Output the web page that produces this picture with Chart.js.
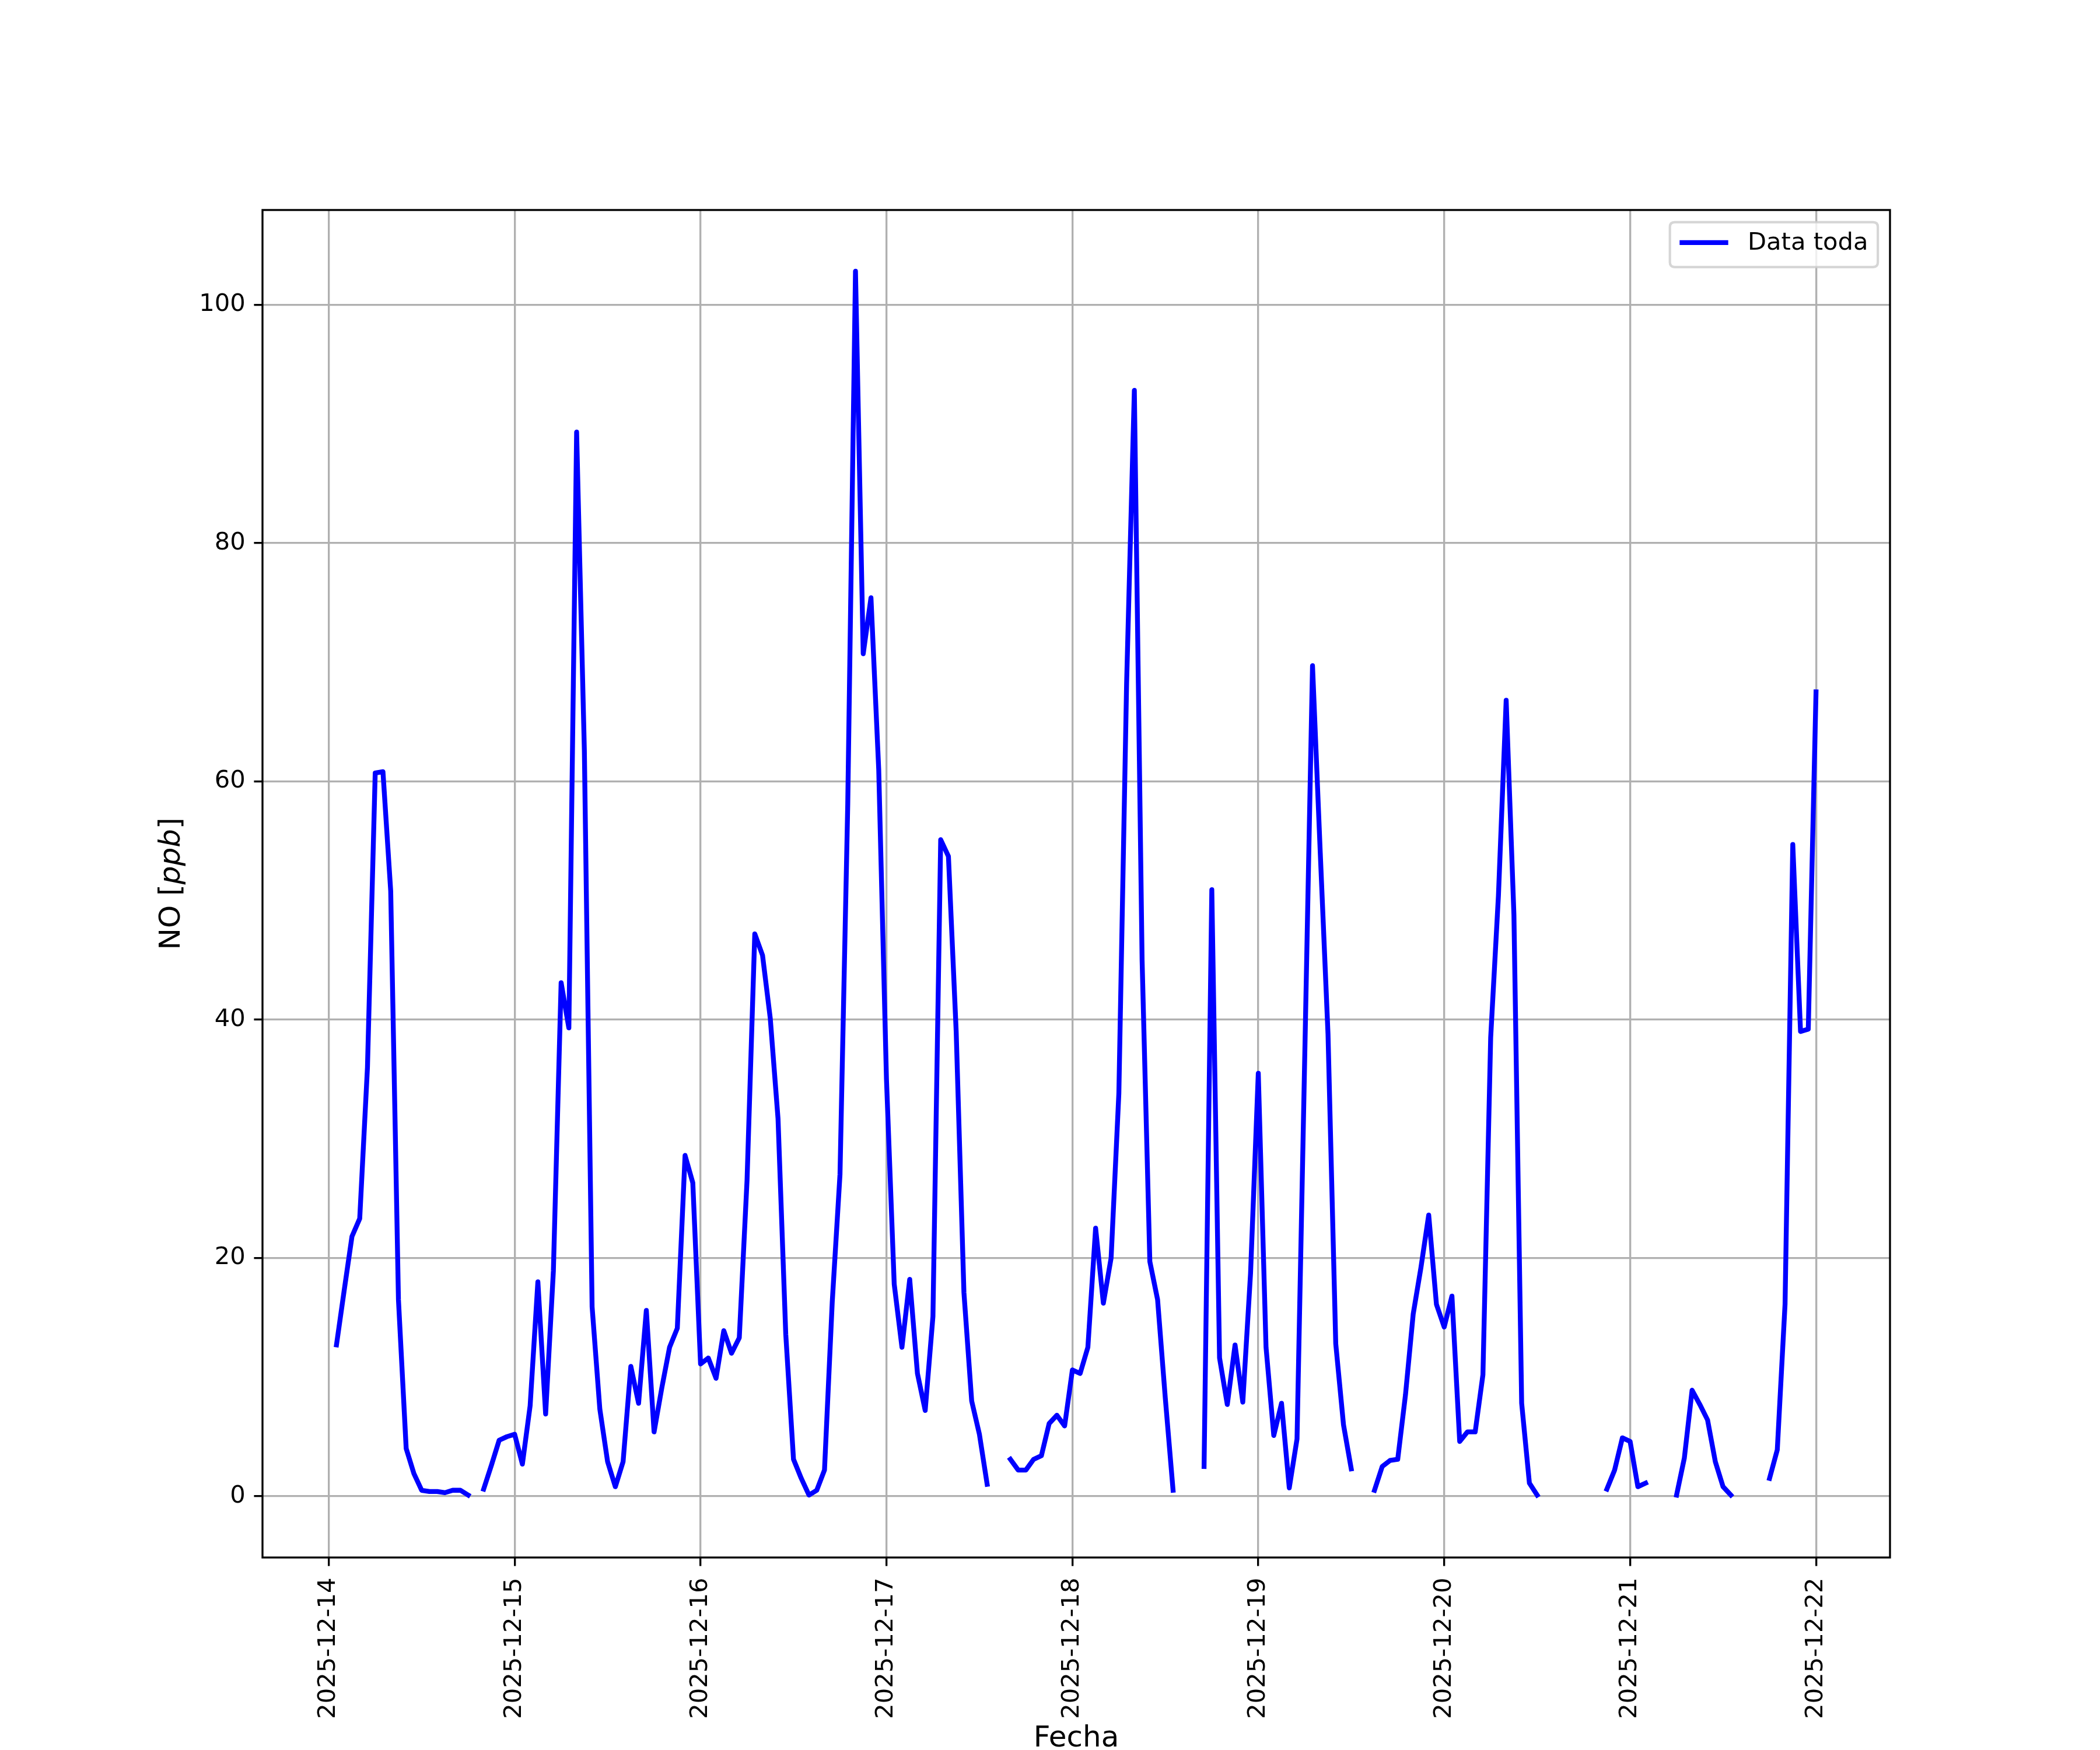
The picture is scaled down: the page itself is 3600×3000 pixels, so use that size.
<!DOCTYPE html>
<html>
<head>
<meta charset="utf-8">
<script src="https://cdn.jsdelivr.net/npm/chart.js@4.4.1/dist/chart.umd.min.js"></script>
<style>html,body{margin:0;padding:0;background:#fff}canvas{display:block}</style>
</head>
<body>
<canvas id="c" width="3600" height="3000" style="width:3600px;height:3000px"></canvas>
<script>
// ---- data (hourly NO values in ppb; null = missing hour) ----
const dayLabels = ['2025-12-14','2025-12-15','2025-12-16','2025-12-17','2025-12-18','2025-12-19','2025-12-20','2025-12-21','2025-12-22'];
const no_dec14 = [null,12.7,17.3,21.8,23.3,36.0,60.7,60.8,50.8,16.5,4.0,1.9,0.5,0.4,0.4,0.3,0.5,0.5,0.1,null,0.6,2.6,4.7,5.0];
const no_dec15 = [5.2,2.7,7.6,18.0,6.9,18.9,43.1,39.3,89.3,62.6,15.9,7.3,2.9,0.8,2.9,10.9,7.8,15.6,5.4,9.1,12.5,14.1,28.6,26.3];
const no_dec16 = [11.1,11.6,9.9,13.9,12.0,13.3,26.5,47.2,45.4,40.1,31.7,13.6,3.1,1.5,0.1,0.5,2.2,16.3,27.0,58.0,102.8,70.7,75.4,61.0];
const no_dec17 = [35.0,17.8,12.5,18.2,10.3,7.2,15.1,55.1,53.7,39.0,17.1,8.0,5.2,1.0,null,null,3.1,2.2,2.2,3.1,3.4,6.1,6.8,5.9];
const no_dec18 = [10.6,10.3,12.5,22.5,16.2,20.0,33.8,68.2,92.8,45.0,19.7,16.5,8.2,0.5,null,null,null,2.5,50.9,11.6,7.7,12.7,7.9,18.7];
const no_dec19 = [35.5,12.5,5.1,7.8,0.7,4.8,37.0,69.7,54.0,38.8,12.8,6.0,2.3,null,null,0.5,2.5,3.0,3.1,8.5,15.3,19.2,23.6,16.1];
const no_dec20 = [14.2,16.8,4.6,5.4,5.4,10.2,38.5,50.4,66.8,48.8,7.8,1.1,0.1,null,null,null,null,null,null,null,null,0.6,2.2,4.9];
const no_dec21 = [4.6,0.8,1.1,null,null,null,0.1,3.2,8.9,7.7,6.4,2.9,0.8,0.1,null,null,null,null,1.5,3.9,16.1,54.7,39.0,39.2];
const no_dec22 = [67.5];
const seriesLabel = 'Data toda';
const yTickValues = [0,20,40,60,80,100];
const xTitle = 'Fecha';

// ---- build the dataset (x = hours since 2025-12-14 00:00) ----
const hourlyByDay = [no_dec14,no_dec15,no_dec16,no_dec17,no_dec18,no_dec19,no_dec20,no_dec21,no_dec22];
const points = [];
hourlyByDay.forEach((arr, d) => arr.forEach((v, h) => points.push({x: d * 24 + h, y: v})));
const dayTickValues = dayLabels.map((_, i) => i * 24);

const PT = 300 / 72;           // pixels per point (300 dpi figure)
const TICK_FONT = 10 * PT;     // 41.67 px
const LABEL_FONT = 12 * PT;    // 50 px
const FAM = 'DejaVu Sans';

// axis limits with matplotlib-style 5% margins
const xs = points.filter(p => p.y !== null).map(p => p.x);
const ys = points.filter(p => p.y !== null).map(p => p.y);
const xLo = Math.min(...xs), xHi = Math.max(...xs);
const yLo = 0, yHi = Math.max(...ys);
const xMin = xLo - 0.05 * (xHi - xLo), xMax = xHi + 0.05 * (xHi - xLo);
const yMin = yLo - 0.05 * (yHi - yLo), yMax = yHi + 0.05 * (yHi - yLo);

const framePlugin = {
  id: 'frame',
  afterDatasetsDraw(chart) {
    const {ctx, chartArea: a} = chart;
    ctx.save();
    ctx.strokeStyle = '#000';
    ctx.lineWidth = 0.8 * PT;
    ctx.strokeRect(a.left, a.top, a.right - a.left, a.bottom - a.top);
    ctx.restore();
  }
};

const yTitlePlugin = {
  id: 'ytitle',
  afterDraw(chart) {
    const {ctx, chartArea: a} = chart;
    const parts = [
      {t: 'NO [', f: `${LABEL_FONT}px "${FAM}"`},
      {t: 'ppb', f: `italic ${LABEL_FONT}px "${FAM}"`},
      {t: ']', f: `${LABEL_FONT}px "${FAM}"`}
    ];
    ctx.save();
    let total = 0;
    parts.forEach(p => { ctx.font = p.f; p.w = ctx.measureText(p.t).width; total += p.w; });
    ctx.translate(295, (a.top + a.bottom) / 2);
    ctx.rotate(-Math.PI / 2);
    ctx.fillStyle = '#000';
    ctx.textBaseline = 'middle';
    ctx.textAlign = 'left';
    let x = -total / 2;
    parts.forEach(p => { ctx.font = p.f; ctx.fillText(p.t, x, 0); x += p.w; });
    ctx.restore();
  }
};

const legendPlugin = {
  id: 'mplLegend',
  afterDraw(chart) {
    const {ctx, chartArea: a} = chart;
    const ds = chart.data.datasets[0];
    const fs = TICK_FONT;
    ctx.save();
    ctx.font = `${fs}px "${FAM}"`;
    const tw = ctx.measureText(ds.label).width;
    const pad = 0.4 * fs, handle = 2 * fs, gap = 0.8 * fs;
    const w = pad + handle + gap + tw + pad;
    const h = 77;
    const right = a.right - 0.5 * fs, top = a.top + 0.5 * fs;
    const left = right - w;
    const r = 0.2 * fs;
    ctx.beginPath();
    ctx.moveTo(left + r, top);
    ctx.lineTo(right - r, top);
    ctx.quadraticCurveTo(right, top, right, top + r);
    ctx.lineTo(right, top + h - r);
    ctx.quadraticCurveTo(right, top + h, right - r, top + h);
    ctx.lineTo(left + r, top + h);
    ctx.quadraticCurveTo(left, top + h, left, top + h - r);
    ctx.lineTo(left, top + r);
    ctx.quadraticCurveTo(left, top, left + r, top);
    ctx.closePath();
    ctx.fillStyle = 'rgba(255,255,255,0.8)';
    ctx.fill();
    ctx.strokeStyle = 'rgba(204,204,204,0.8)';
    ctx.lineWidth = 1.0 * PT;
    ctx.stroke();
    const cy = top + 35;
    ctx.beginPath();
    ctx.moveTo(left + pad, cy);
    ctx.lineTo(left + pad + handle, cy);
    ctx.strokeStyle = ds.borderColor;
    ctx.lineWidth = ds.borderWidth;
    ctx.lineCap = 'butt';
    ctx.stroke();
    ctx.fillStyle = '#000';
    ctx.textBaseline = 'middle';
    ctx.textAlign = 'left';
    ctx.fillText(ds.label, left + pad + handle + gap, cy + 1);
    ctx.restore();
  }
};

new Chart(document.getElementById('c').getContext('2d'), {
  type: 'line',
  data: {
    datasets: [{
      label: seriesLabel,
      data: points,
      borderColor: '#0000ff',
      backgroundColor: '#0000ff',
      borderWidth: 2 * PT,
      pointRadius: 0,
      pointHoverRadius: 0,
      tension: 0,
      spanGaps: false,
      fill: false,
      borderCapStyle: 'square',
      borderJoinStyle: 'round'
    }]
  },
  options: {
    responsive: false,
    animation: false,
    devicePixelRatio: 1,
    events: [],
    layout: {padding: {top: 360, right: 360, bottom: 0, left: 0}},
    plugins: {legend: {display: false}, tooltip: {enabled: false}},
    scales: {
      x: {
        type: 'linear',
        min: xMin,
        max: xMax,
        afterFit(s) { s.height = 330; },
        afterBuildTicks(s) { s.ticks = dayTickValues.map(v => ({value: v})); },
        ticks: {
          autoSkip: false,
          maxRotation: 90,
          minRotation: 90,
          padding: 20,
          color: '#000',
          font: {family: FAM, size: TICK_FONT},
          callback: (v) => dayLabels[Math.round(v / 24)]
        },
        grid: {color: '#b0b0b0', lineWidth: 0.8 * PT, tickColor: '#000', tickWidth: 0.8 * PT, tickLength: 3.5 * PT, drawTicks: true},
        border: {display: false},
        title: {display: true, text: xTitle, color: '#000', font: {family: FAM, size: LABEL_FONT, lineHeight: 0.76}, padding: 0}
      },
      y: {
        type: 'linear',
        min: yMin,
        max: yMax,
        afterFit(s) { s.width = 450; },
        afterBuildTicks(s) { s.ticks = yTickValues.map(v => ({value: v})); },
        ticks: {
          padding: 3.5 * PT,
          color: '#000',
          font: {family: FAM, size: TICK_FONT},
          callback: (v) => String(v)
        },
        grid: {color: '#b0b0b0', lineWidth: 0.8 * PT, tickColor: '#000', tickWidth: 0.8 * PT, tickLength: 3.5 * PT, drawTicks: true},
        border: {display: false},
        title: {display: false}
      }
    }
  },
  plugins: [framePlugin, yTitlePlugin, legendPlugin]
});
</script>
</body>
</html>
